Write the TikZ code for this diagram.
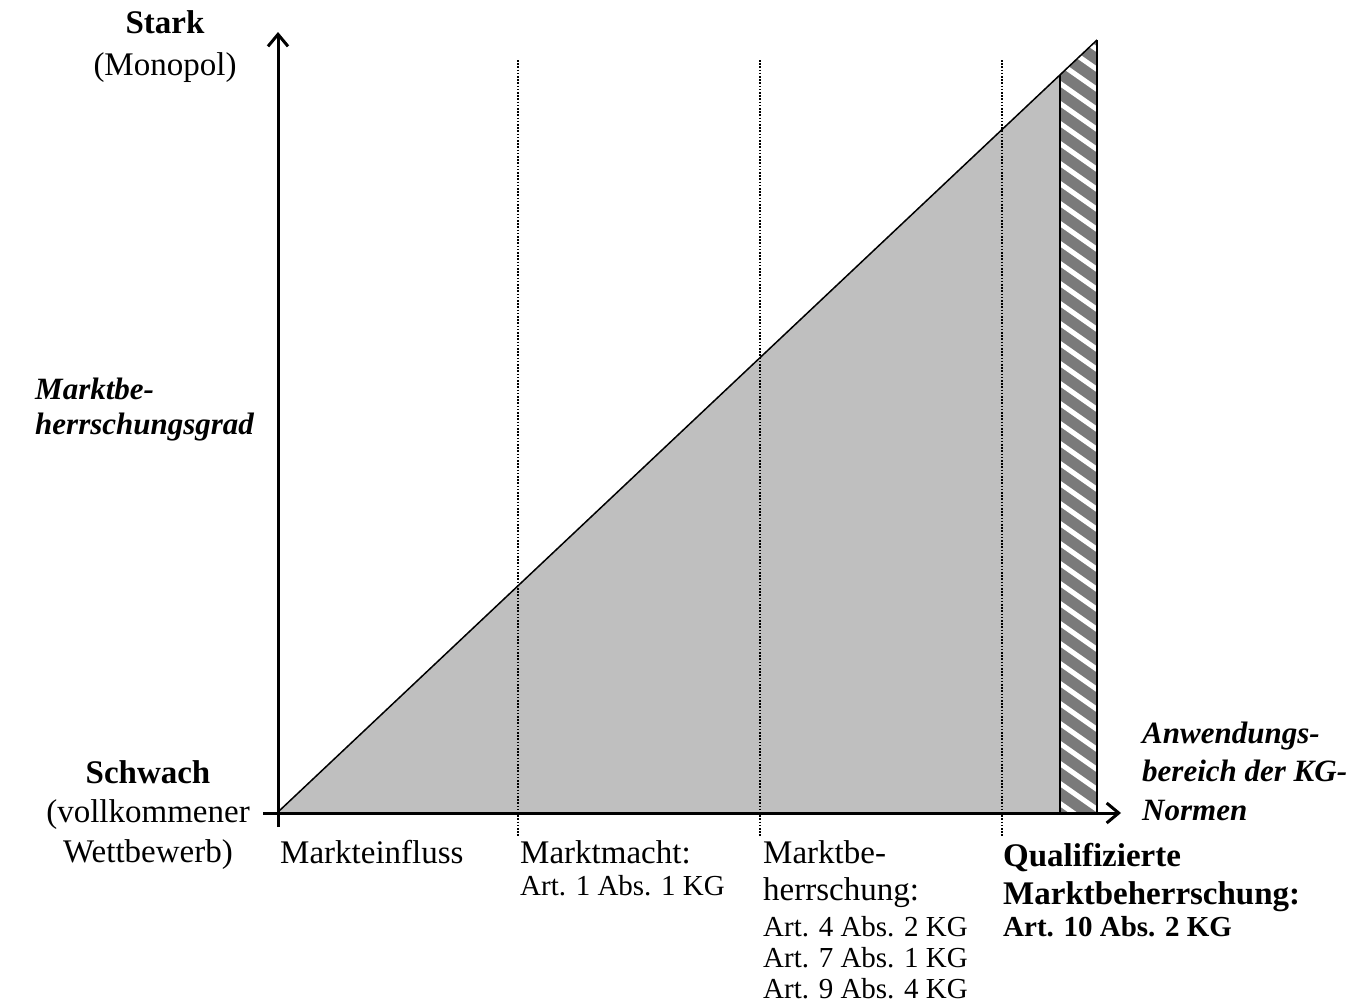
\documentclass[tikz,border=0pt]{standalone}
\usepackage{fontspec}
\setmainfont{Liberation Serif}
\usetikzlibrary{arrows.meta}
\begin{document}
\begin{tikzpicture}[x=1pt,y=-1pt,
  big/.style={inner sep=0pt,font=\fontsize{33}{38}\selectfont},
  bigit/.style={inner sep=0pt,font=\fontsize{31}{38}\selectfont\bfseries\itshape},
  small/.style={inner sep=0pt,font=\fontsize{29}{31}\selectfont},
  axis/.style={line width=3pt,-{Straight Barb[length=12pt,width=20pt]}},
  sep/.style={line width=2pt,dash pattern=on 1.6pt off 1.6pt},
  edge/.style={line width=2pt}]
\useasboundingbox (0,0) rectangle (1370,1004);
\coordinate (O) at (278,812);
\coordinate (A) at (1060,812);
\coordinate (B) at (1060,74.9);
\coordinate (C) at (1097,40);
\coordinate (D) at (1097,812);
% gray triangle
\fill[black!25] (O) -- (A) -- (B) -- cycle;
% hatched strip
\begin{scope}
  \clip (A) -- (B) -- (C) -- (D) -- cycle;
  \fill[black!52] (1055,30) rectangle (1100,820);
  \foreach \k in {-2,...,40}
    \draw[white,line width=5pt] (1055,40+\k*20) -- ++(50,35);
\end{scope}
\draw[edge] (A) -- (B);
\draw[edge] (D) -- (C);
\draw[line width=1.5pt] (O) -- (C);
% separators
\foreach \x/\n in {518/s1,760/s2,1002/s3}{
  \coordinate (\n t) at (\x,60);
  \coordinate (\n b) at (\x,837);
  \draw[sep] (\n t) -- (\n b);
}
% axes
\coordinate (ybot) at (278,827);
\coordinate (ytop) at (278,32);
\coordinate (xl) at (263,813);
\coordinate (xr) at (1121,813);
\draw[axis] (ybot) -- (ytop);
\draw[axis] (xl) -- (xr);
% y labels
\node[big,anchor=base] (stark) at (165,33) {\textbf{Stark}};
\node[big,anchor=base] (mono) at (165,75) {(Monopol)};
\node[bigit,anchor=base west] (mb1) at (35,399) {Marktbe-};
\node[bigit,anchor=base west] (mb2) at (35,434) {herrschungsgrad};
\node[big,anchor=base] (schw) at (148,783) {\textbf{Schwach}};
\node[big,anchor=base] (voll) at (148,822) {(vollkommener};
\node[big,anchor=base] (wett) at (148,862) {Wettbewerb)};
% x axis label
\node[bigit,anchor=base west] (an1) at (1142,743) {Anwendungs-};
\node[bigit,anchor=base west] (an2) at (1142,781) {bereich der KG-};
\node[bigit,anchor=base west] (an3) at (1142,820) {Normen};
% categories
\node[big,anchor=base west] (c1) at (280,863) {Markteinfluss};
\node[big,anchor=base west] (c2) at (520,863) {Marktmacht:};
\node[small,anchor=base west] (c2a) at (520,895) {Art. 1 Abs. 1 KG};
\node[big,anchor=base west] (c3) at (763,863) {Marktbe-};
\node[big,anchor=base west] (c3b) at (763,900) {herrschung:};
\node[small,anchor=base west] (c3c) at (763,936) {Art. 4 Abs. 2 KG};
\node[small,anchor=base west] (c3d) at (763,967) {Art. 7 Abs. 1 KG};
\node[small,anchor=base west] (c3e) at (763,998) {Art. 9 Abs. 4 KG};
\node[big,anchor=base west] (c4) at (1003,866) {\textbf{Qualifizierte}};
\node[big,anchor=base west] (c4b) at (1003,904) {\textbf{Marktbeherrschung:}};
\node[small,anchor=base west] (c4c) at (1003,936) {\textbf{Art. 10 Abs. 2 KG}};
\end{tikzpicture}
\end{document}
